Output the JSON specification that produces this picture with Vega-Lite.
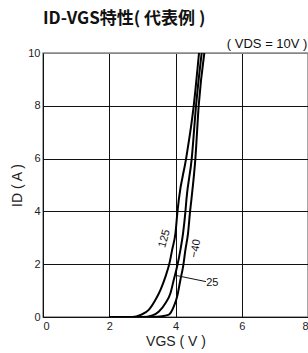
{
  "$schema": "https://vega.github.io/schema/vega-lite/v6.json",
  "width": 265,
  "height": 264,
  "autosize": "none",
  "padding": {"left": 43, "top": 53, "right": 0, "bottom": 36},
  "background": "white",
  "title": {
    "text": "ID-VGS特性( 代表例 )",
    "anchor": "start",
    "frame": "group",
    "font": "Noto Sans CJK JP",
    "fontSize": 17,
    "fontWeight": "bold",
    "color": "#111",
    "offset": 10
  },
  "config": {
    "view": {"stroke": "#888", "strokeWidth": 1.5},
    "axis": {
      "labelFont": "Liberation Sans",
      "labelFontSize": 11,
      "labelColor": "#222",
      "titleFont": "Liberation Sans",
      "titleFontSize": 14,
      "titleFontWeight": "normal",
      "titleColor": "#222",
      "domainColor": "#111",
      "ticks": false,
      "gridColor": "#111",
      "gridOpacity": 1,
      "gridWidth": 1
    }
  },
  "datasets": {
    "curves": [
      {"t": "125", "vgs": 2.0, "id": 0},
      {"t": "125", "vgs": 2.7, "id": 0},
      {"t": "125", "vgs": 2.95, "id": 0.08},
      {"t": "125", "vgs": 3.2, "id": 0.28},
      {"t": "125", "vgs": 3.4, "id": 0.66},
      {"t": "125", "vgs": 3.55, "id": 1.04},
      {"t": "125", "vgs": 3.7, "id": 1.54},
      {"t": "125", "vgs": 3.82, "id": 2.05},
      {"t": "125", "vgs": 3.9, "id": 2.55},
      {"t": "125", "vgs": 4.0, "id": 3.19},
      {"t": "125", "vgs": 4.06, "id": 4.0},
      {"t": "125", "vgs": 4.1, "id": 4.45},
      {"t": "125", "vgs": 4.32, "id": 6.0},
      {"t": "125", "vgs": 4.55, "id": 8.0},
      {"t": "125", "vgs": 4.71, "id": 10},
      {"t": "25", "vgs": 2.0, "id": 0},
      {"t": "25", "vgs": 3.0, "id": 0},
      {"t": "25", "vgs": 3.3, "id": 0.06},
      {"t": "25", "vgs": 3.5, "id": 0.21},
      {"t": "25", "vgs": 3.7, "id": 0.53},
      {"t": "25", "vgs": 3.85, "id": 0.91},
      {"t": "25", "vgs": 3.95, "id": 1.42},
      {"t": "25", "vgs": 4.05, "id": 1.92},
      {"t": "25", "vgs": 4.15, "id": 2.55},
      {"t": "25", "vgs": 4.23, "id": 3.19},
      {"t": "25", "vgs": 4.3, "id": 4.0},
      {"t": "25", "vgs": 4.33, "id": 4.45},
      {"t": "25", "vgs": 4.49, "id": 6.0},
      {"t": "25", "vgs": 4.62, "id": 8.0},
      {"t": "25", "vgs": 4.79, "id": 10},
      {"t": "-40", "vgs": 2.0, "id": 0},
      {"t": "-40", "vgs": 3.3, "id": 0},
      {"t": "-40", "vgs": 3.6, "id": 0.03},
      {"t": "-40", "vgs": 3.8, "id": 0.09},
      {"t": "-40", "vgs": 3.95, "id": 0.4},
      {"t": "-40", "vgs": 4.05, "id": 0.78},
      {"t": "-40", "vgs": 4.15, "id": 1.42},
      {"t": "-40", "vgs": 4.23, "id": 1.92},
      {"t": "-40", "vgs": 4.3, "id": 2.55},
      {"t": "-40", "vgs": 4.38, "id": 3.19},
      {"t": "-40", "vgs": 4.44, "id": 4.0},
      {"t": "-40", "vgs": 4.48, "id": 4.45},
      {"t": "-40", "vgs": 4.6, "id": 6.0},
      {"t": "-40", "vgs": 4.7, "id": 8.0},
      {"t": "-40", "vgs": 4.87, "id": 10}
    ]
  },
  "layer": [
    {
      "data": {"name": "curves"},
      "mark": {"type": "line", "color": "#000", "strokeWidth": 2, "clip": true, "interpolate": "monotone"},
      "encoding": {
        "x": {
          "field": "vgs", "type": "quantitative",
          "scale": {"domain": [0, 8], "nice": false},
          "axis": {
            "title": "VGS ( V )",
            "values": [0, 1, 2, 3, 4, 5, 6, 7, 8],
            "labelExpr": "datum.value % 2 == 0 ? datum.label : ''",
            "labelPadding": 3,
            "titlePadding": 3,
            "grid": true
          }
        },
        "y": {
          "field": "id", "type": "quantitative",
          "scale": {"domain": [0, 10], "nice": false},
          "axis": {
            "title": "ID ( A )",
            "values": [0, 1, 2, 3, 4, 5, 6, 7, 8, 9, 10],
            "labelExpr": "datum.value % 2 == 0 ? datum.label : ''",
            "labelPadding": 3,
            "titlePadding": 3,
            "grid": true,
            "gridColor": {"condition": {"test": "datum.value == 10", "value": "#888"}, "value": "#111"}
          }
        },
        "detail": {"field": "t", "type": "nominal"}
      }
    },
    {
      "data": {"values": [{"vgs": 3.67, "id": 2.97, "label": "125"}]},
      "mark": {"type": "text", "angle": 285, "font": "Liberation Sans", "fontSize": 11, "color": "#111"},
      "encoding": {
        "x": {"field": "vgs", "type": "quantitative"},
        "y": {"field": "id", "type": "quantitative"},
        "text": {"field": "label"}
      }
    },
    {
      "data": {"values": [{"vgs": 4.61, "id": 2.59, "label": "−40"}]},
      "mark": {"type": "text", "angle": 280, "font": "Liberation Sans", "fontSize": 11, "color": "#111"},
      "encoding": {
        "x": {"field": "vgs", "type": "quantitative"},
        "y": {"field": "id", "type": "quantitative"},
        "text": {"field": "label"}
      }
    },
    {
      "data": {"values": [{"vgs": 5.11, "id": 1.3, "label": "25"}]},
      "mark": {"type": "text", "font": "Liberation Sans", "fontSize": 11, "color": "#111"},
      "encoding": {
        "x": {"field": "vgs", "type": "quantitative"},
        "y": {"field": "id", "type": "quantitative"},
        "text": {"field": "label"}
      }
    },
    {
      "data": {"values": [{"x1": 4.03, "y1": 1.57, "x2": 4.92, "y2": 1.34}]},
      "mark": {"type": "rule", "color": "#111", "strokeWidth": 1},
      "encoding": {
        "x": {"field": "x1", "type": "quantitative"},
        "y": {"field": "y1", "type": "quantitative"},
        "x2": {"field": "x2"},
        "y2": {"field": "y2"}
      }
    },
    {
      "data": {"values": [{"vgs": 5.55, "id": 10, "label": "( VDS = 10V )"}]},
      "mark": {"type": "text", "align": "left", "baseline": "bottom", "dy": -2, "font": "Liberation Sans", "fontSize": 13, "color": "#111"},
      "encoding": {
        "x": {"field": "vgs", "type": "quantitative"},
        "y": {"field": "id", "type": "quantitative"},
        "text": {"field": "label"}
      }
    }
  ]
}
